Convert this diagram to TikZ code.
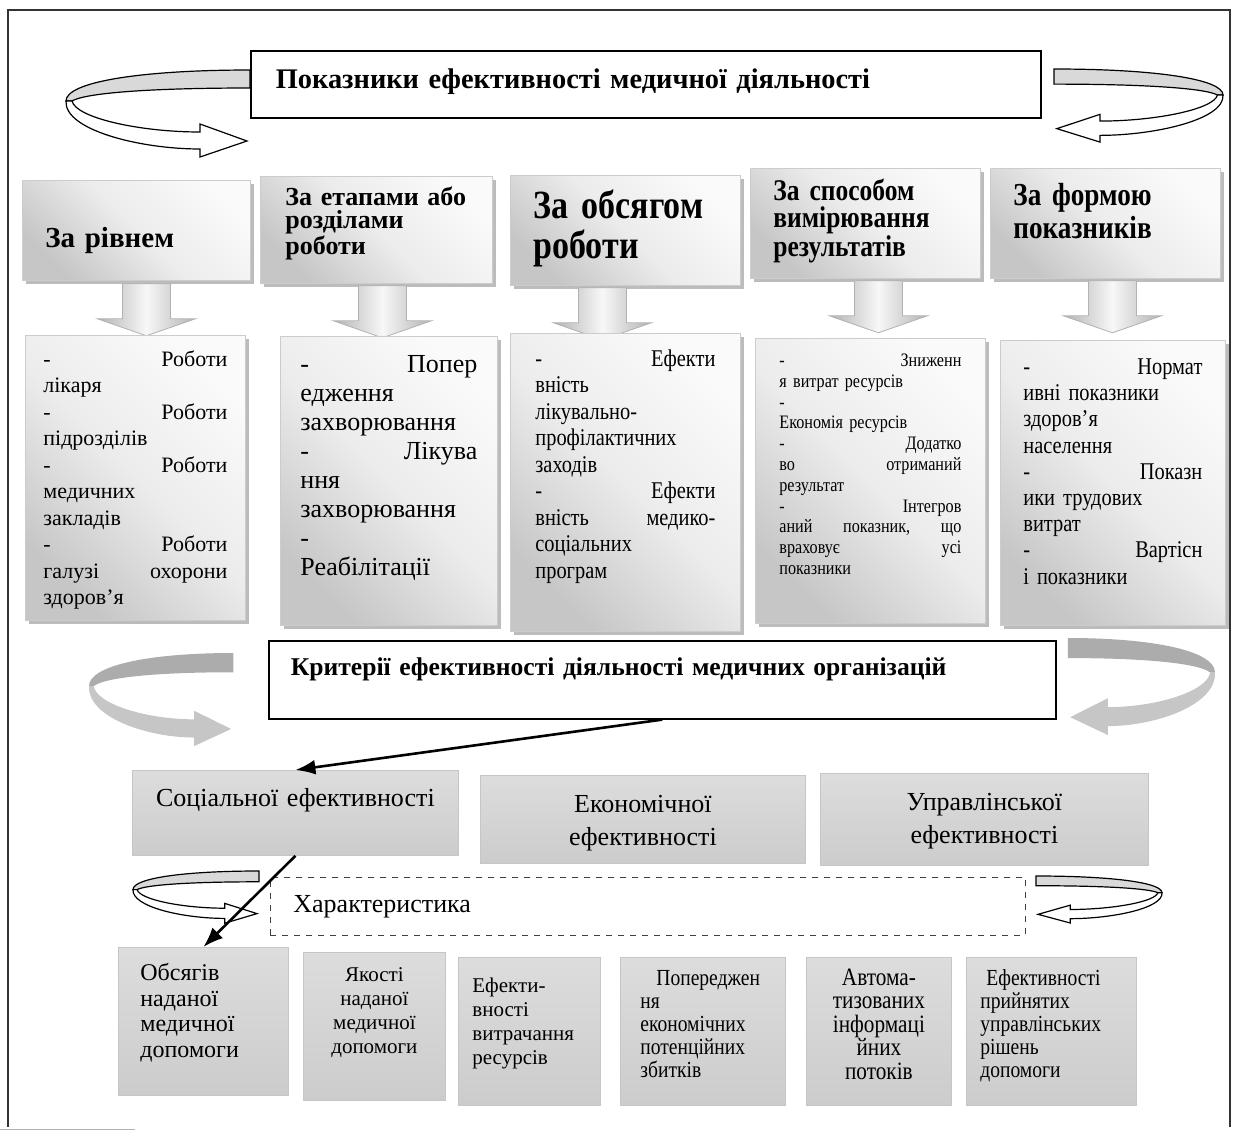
\documentclass[tikz,border=0pt]{standalone}
\usepackage{fontspec}
\setmainfont{Liberation Serif}
\newfontfamily\narrowserif{Liberation Serif}[FakeStretch=0.85]
\usepackage{tikz}
\usetikzlibrary{arrows.meta, positioning, shadows}
\lineskiplimit=-20pt

\begin{document}
\begin{tikzpicture}[
  x=0.5pt, y=-0.5pt,
  >=Latex,
  headbox/.style={draw=black, thick, fill=white, anchor=north west,
                  inner ysep=0pt, align=left},
  catbox/.style={draw=gray!40, top color=gray!45, bottom color=gray!4,
                 middle color=gray!15, shading angle=135,
                 drop shadow={shadow xshift=2pt, shadow yshift=-2pt,
                              fill=gray!75, opacity=.7},
                 anchor=north west, inner ysep=0pt, align=left},
  listbox/.style={catbox},
  critbox/.style={draw=gray!45, top color=gray!27, bottom color=gray!40,
                  anchor=north west, inner ysep=0pt, align=center,
                  font=\fontsize{13}{16.5}\selectfont},
  charbox/.style={draw=black!75, dashed, anchor=north west, inner ysep=0pt,
                  align=left, font=\fontsize{13}{15}\selectfont},
  leafbox/.style={critbox, align=left},
  conn/.style={-{Latex[length=10pt, width=7.5pt]}, line width=1.3pt},
  pics/ribbon/.style n args={3}{code={
    \path[fill=#1, draw=#3, line width=0.6pt]
      (184,0) .. controls (74,0) and (0,12) .. (0,31) -- (6,31)
      .. controls (19,23) and (84,18) .. (184,18) -- cycle;
    \path[fill=#2, draw=#3, line width=0.6pt]
      (0,31) .. controls (-2,60) and (74,79) .. (134,79) -- (134,87)
      -- (181,71) -- (134,54) -- (134,62)
      .. controls (74,62) and (10,48) .. (6,31) -- cycle;
  }},
  pics/downarrow/.style={code={
    \path[draw=gray!60, left color=gray!60, right color=gray!60,
          middle color=gray!6]
      (-24,0) -- (24,0) -- (24,35) -- (49,35) -- (0,52) -- (-49,35)
      -- (-24,35) -- cycle;
  }}
]
\useasboundingbox (0,0) rectangle (1233,1131);

%% ── Рамка ──────────────────────────────────────────────────────
\draw[line width=1pt, black!80] (8,1127) -- (8,10) -- (1230,10) -- (1230,1127);
\draw[gray!60] (0,1129) -- (135,1129);

%% ── Показники ──────────────────────────────────────────────────
\node[headbox, inner xsep=12.5pt, text width=370pt, text height=19pt,
      text depth=14.5pt, font=\bfseries\fontsize{14.2}{17}\selectfont]
  (title) at (250,50) {Показники ефективності медичної діяльності};

\pic[xscale=1, yscale=1] at (66,70) {ribbon={gray!30}{white}{black}};
\pic[xscale=-0.918, yscale=0.84] at (1223,69) {ribbon={gray!30}{white}{black}};

%% ── Ознаки ─────────────────────────────────────────────────────
\node[catbox, inner xsep=11.5pt, text width=91pt, text height=33.5pt,
      text depth=16.5pt, font=\bfseries\fontsize{14.5}{16}\selectfont]
  (level) at (22,180) {За рівнем};
\node[catbox, inner xsep=12.5pt, text width=91pt, text height=14.5pt,
      text depth=39pt, font=\bfseries\fontsize{13}{11.5}\selectfont]
  (stage) at (260,176) {За етапами або\\розділами\\роботи};
\node[catbox, inner xsep=11.5pt, text width=92pt, text height=21.5pt,
      text depth=33.5pt, font=\narrowserif\bfseries\fontsize{20}{20}\selectfont]
  (volume) at (510,175) {За обсягом\\роботи};
\node[catbox, inner xsep=11.5pt, text width=92pt, text height=16pt,
      text depth=39pt, font=\narrowserif\bfseries\fontsize{15}{13.5}\selectfont]
  (method) at (750,168) {За способом\\вимірювання\\результатів};
\node[catbox, inner xsep=11.5pt, text width=92pt, text height=18.5pt,
      text depth=36.5pt, font=\narrowserif\bfseries\fontsize{16}{16.5}\selectfont]
  (form) at (990,168) {За формою\\показників};

%% ── Стрілки вниз ───────────────────────────────────────────────
\pic at ([xshift=5pt, yshift=-1.5pt]level.south) {downarrow};
\pic at ([xshift=3pt, yshift=-1pt]stage.south) {downarrow};
\pic at ([xshift=-11.5pt, yshift=-1pt]volume.south) {downarrow};
\pic at ([xshift=6.5pt, yshift=-1pt]method.south) {downarrow};
\pic at ([xshift=3.5pt, yshift=-1pt]form.south) {downarrow};

%% ── Переліки ───────────────────────────────────────────────────
\node[listbox, inner xsep=9pt, text width=92pt, text height=15.5pt,
      text depth=127pt, font=\fontsize{11}{13.25}\selectfont]
  (levellist) at (25,335)
  {-\hfill Роботи\\
   лікаря\\
   -\hfill Роботи\\
   підрозділів\\
   -\hfill Роботи\\
   медичних\\
   закладів\\
   -\hfill Роботи\\
   галузі\hfill охорони\\
   здоров’я};
\node[listbox, inner xsep=10pt, text width=88.5pt, text height=18pt,
      text depth=126.5pt, font=\fontsize{13}{14.5}\selectfont]
  (stagelist) at (280,336)
  {-\hfill Попер\\
   едження\\
   захворювання\\
   -\hfill Лікува\\
   ння\\
   захворювання\\
   -\\
   Реабілітації};
\node[listbox, inner xsep=12.5pt, text width=90pt, text height=16.5pt,
      text depth=132.5pt, font=\narrowserif\fontsize{12}{13.25}\selectfont]
  (volumelist) at (510,333)
  {-\hfill Ефекти\\
   вність\\
   лікувально-\\
   профілактичних\\
   заходів\\
   -\hfill Ефекти\\
   вність\hfill медико-\\
   соціальних\\
   програм};
\node[listbox, inner xsep=12pt, text width=91pt, text height=14pt,
      text depth=128.5pt, font=\narrowserif\fontsize{9.5}{10.4}\selectfont]
  (methodlist) at (755,338)
  {-\hfill Зниженн\\
   я витрат ресурсів\\
   -\\
   Економія ресурсів\\
   -\hfill Додатко\\
   во\hfill отриманий\\
   результат\\
   -\hfill Інтегров\\
   аний\hfill показник,\hfill що\\
   враховує\hfill усі\\
   показники};
\node[listbox, inner xsep=11.5pt, text width=89.5pt, text height=17pt,
      text depth=125.5pt, font=\narrowserif\fontsize{12}{13.1}\selectfont]
  (formlist) at (1000,340)
  {-\hfill Нормат\\
   ивні показники\\
   здоров’я\\
   населення\\
   -\hfill Показн\\
   ики трудових\\
   витрат\\
   -\hfill Вартісн\\
   і показники};

%% ── Критерії ───────────────────────────────────────────────────
\node[headbox, inner xsep=11pt, text width=371.5pt, text height=17.5pt,
      text depth=21.5pt, font=\bfseries\fontsize{12.8}{16}\selectfont]
  (criteria) at (268,640) {Критерії ефективності діяльності медичних організацій};

\pic[xscale=0.785, yscale=1.07] at (89,653) {ribbon={gray!65}{gray!45}{none}};
\pic[xscale=-0.80, yscale=1.115] at (1215,638) {ribbon={gray!65}{gray!45}{none}};

\node[critbox, inner xsep=5pt, text width=153pt, text height=18pt,
      text depth=24.5pt] (social) at (132,770) {Соціальної ефективності};
\node[critbox, inner xsep=5pt, text width=152.5pt, text height=18.5pt,
      text depth=25.5pt] (econ) at (480,775) {Економічної\\ефективності};
\node[critbox, inner xsep=5pt, text width=154pt, text height=18.5pt,
      text depth=27.5pt] (manage) at (820,773) {Управлінської\\ефективності};

%% ── Характеристика ─────────────────────────────────────────────
\node[charbox, inner xsep=11.5pt, text width=354.5pt, text height=17.5pt,
      text depth=11.5pt] (charact) at (270,877) {Характеристика};

\pic[xscale=0.685, yscale=0.6] at (133,871) {ribbon={gray!30}{white}{black}};
\pic[xscale=-0.685, yscale=0.54] at (1162,876) {ribbon={gray!30}{white}{black}};

\node[leafbox, inner xsep=11pt, text width=63pt, text height=16.5pt,
      text depth=57.5pt, font=\fontsize{12}{12.85}\selectfont]
  (amount) at (118,947) {Обсягів\\наданої\\медичної\\допомоги};
\node[leafbox, align=center, inner xsep=4pt, text width=63pt, text height=14.5pt,
      text depth=59.5pt, font=\fontsize{10.5}{12}\selectfont]
  (quality) at (303,952) {Якості\\наданої\\медичної\\допомоги};
\node[leafbox, inner xsep=7pt, text width=57pt, text height=17.5pt,
      text depth=56.5pt, font=\fontsize{10.5}{12}\selectfont]
  (spending) at (458,957) {Ефекти-\\вності\\витрачання\\ресурсів};
\node[leafbox, inner xsep=10pt, text width=62.5pt, text height=14pt,
      text depth=60pt, font=\narrowserif\fontsize{11.5}{11.5}\selectfont]
  (losses) at (620,957)
  {\hspace*{8pt}Попереджен\\ня\\економічних\\потенційних\\збитків};
\node[leafbox, align=center, inner xsep=4pt, text width=64.5pt, text height=14pt,
      text depth=60pt, font=\narrowserif\fontsize{12.5}{11.75}\selectfont]
  (flows) at (806,957) {Автома-\\тизованих\\інформаці\\йних\\потоків};
\node[leafbox, inner xsep=7pt, text width=71pt, text height=14pt,
      text depth=60pt, font=\narrowserif\fontsize{11.5}{11.5}\selectfont]
  (decisions) at (966,957)
  {\hspace*{3pt}Ефективності\\прийнятих\\управлінських\\рішень\\допомоги};

%% ── Зв'язки ────────────────────────────────────────────────────
\draw[conn] (criteria.south) -- (social.north);
\draw[conn] (social.south) -- (amount.north);

\end{tikzpicture}
\end{document}
